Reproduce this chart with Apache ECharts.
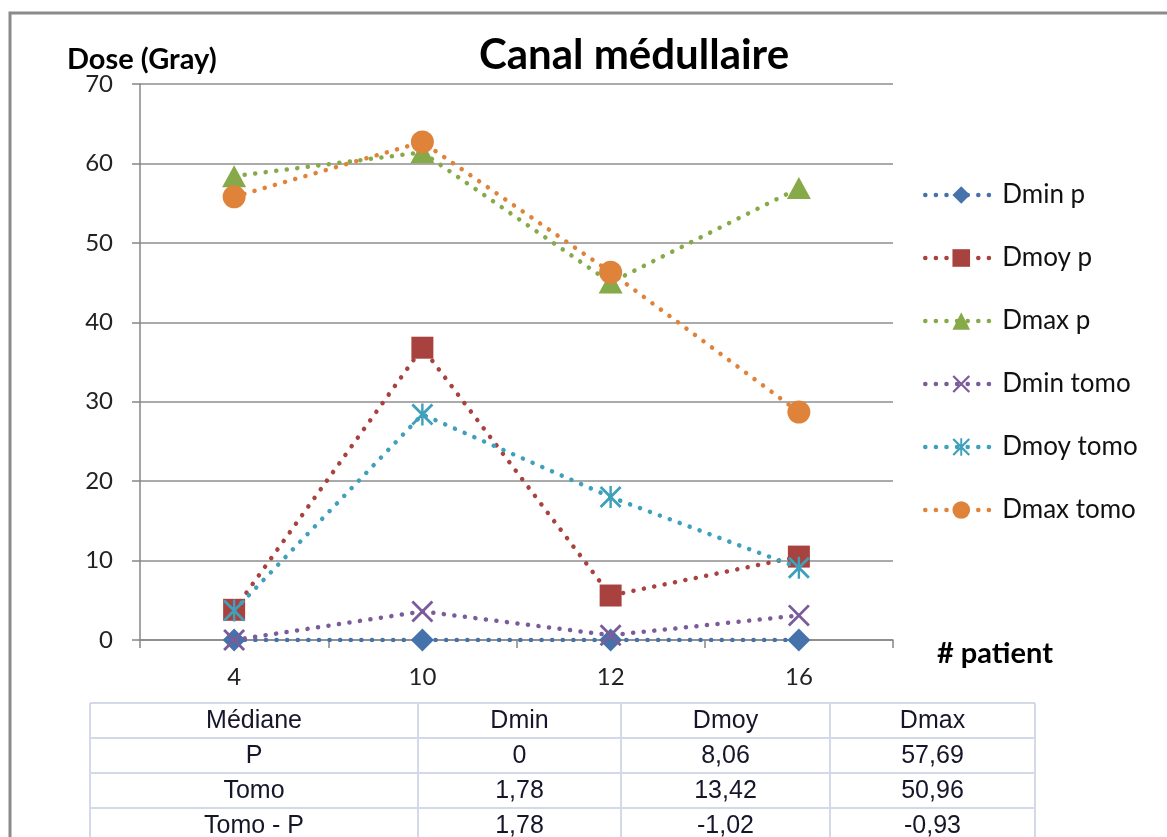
<!DOCTYPE html>
<html><head><meta charset="utf-8">
<script src="https://cdn.jsdelivr.net/npm/echarts@6/dist/echarts.min.js"></script>
<style>html,body{margin:0;padding:0;background:#fff}#c{width:1167px;height:837px}</style>
</head><body><div id="c"></div>
<script>
// ---- data ----
const categories = ['4', '10', '12', '16'];
const seriesNames = ['Dmin p', 'Dmoy p', 'Dmax p', 'Dmin tomo', 'Dmoy tomo', 'Dmax tomo'];
const dminP = [0, 0, 0, 0];
const dmoyP = [3.8, 36.8, 5.6, 10.5];
const dmaxP = [58.4, 61.4, 45.0, 56.9];
const dminTomo = [0, 3.6, 0.6, 3.1];
const dmoyTomo = [3.7, 28.4, 18.0, 9.1];
const dmaxTomo = [55.8, 62.7, 46.3, 28.7];
const yMin = 0, yMax = 70, yStep = 10;
const titleText = 'Canal médullaire';
const yName = 'Dose (Gray)';
const xName = '# patient';
const tableHeader = ['Médiane', 'Dmin', 'Dmoy', 'Dmax'];
const tableRows = [
  ['P', '0', '8,06', '57,69'],
  ['Tomo', '1,78', '13,42', '50,96'],
  ['Tomo - P', '1,78', '-1,02', '-0,93']
];

// ---- styling ----
const FONT = 'Lato';
const colors = ['#4672ac', '#a8423f', '#86a94a', '#7a5c9b', '#3fa0bb', '#e0833a'];
const xPath = 'path://M0,1.8L1.8,0L20,18.2L18.2,20ZM18.2,0L20,1.8L1.8,20L0,18.2Z';
const starPath = 'path://M0,1.8L1.8,0L20,18.2L18.2,20ZM18.2,0L20,1.8L1.8,20L0,18.2ZM8.9,0L11.1,0L11.1,20L8.9,20Z';
const symbols = ['diamond', 'rect', 'triangle', xPath, starPath, 'circle'];
const symbolSizes = [[23, 23], [22, 22], [24, 22], [22, 22], [22, 22], [23, 23]];
const dataSets = [dminP, dmoyP, dmaxP, dminTomo, dmoyTomo, dmaxTomo];
const dotted = [0.1, 10.5];

const chart = echarts.init(document.getElementById('c'), null, {renderer: 'canvas'});

// table graphics
const colEdges = [90, 418, 621, 830, 1035];
const rowEdges = [703, 738, 773, 808, 843];
const tableGraphics = [];
const allRows = [tableHeader].concat(tableRows);
const lineStyleT = {stroke: '#d3d9e6', lineWidth: 2};
colEdges.forEach(x => tableGraphics.push({type: 'line', shape: {x1: x, y1: rowEdges[0], x2: x, y2: rowEdges[rowEdges.length - 1]}, style: lineStyleT, silent: true}));
rowEdges.forEach(y => tableGraphics.push({type: 'line', shape: {x1: colEdges[0], y1: y, x2: colEdges[colEdges.length - 1], y2: y}, style: lineStyleT, silent: true}));
allRows.forEach((row, r) => {
  row.forEach((txt, c) => {
    tableGraphics.push({
      type: 'text', silent: true,
      x: (colEdges[c] + colEdges[c + 1]) / 2,
      y: (rowEdges[r] + rowEdges[r + 1]) / 2 + 1,
      style: {text: txt, font: '25px "Liberation Sans", Arial, sans-serif', fill: '#16162a', align: 'center', verticalAlign: 'middle'}
    });
  });
});

const option = {
  animation: false,
  backgroundColor: '#fff',
  title: {
    text: titleText, left: 629, top: 29, textAlign: 'center',
    textStyle: {fontFamily: FONT, fontWeight: 'bold', fontSize: 42, color: '#000'}
  },
  grid: {left: 140, right: 274, top: 84, bottom: 197, containLabel: false},
  legend: {
    orient: 'vertical', left: 918, top: 177,
    itemWidth: 72, itemHeight: 22, itemGap: 37,
    data: seriesNames,
    lineStyle: {width: 4.5, type: dotted, cap: 'round'},
    textStyle: {fontFamily: FONT, fontSize: 26, color: '#111', padding: [0, 0, 0, 0]},
    selectedMode: false
  },
  xAxis: {
    type: 'category', data: categories, boundaryGap: true,
    axisLine: {lineStyle: {color: '#868686', width: 1.5}},
    axisTick: {show: true, alignWithLabel: false, length: 8, lineStyle: {color: '#868686', width: 1.5}},
    axisLabel: {fontFamily: FONT, fontSize: 24, color: '#222', margin: 25}
  },
  yAxis: {
    type: 'value', min: yMin, max: yMax, interval: yStep,
    axisLine: {show: true, lineStyle: {color: '#868686', width: 1.5}},
    axisTick: {show: true, length: 8, lineStyle: {color: '#868686', width: 1.5}},
    splitLine: {lineStyle: {color: '#8e8e8e', width: 1.5}},
    axisLabel: {fontFamily: FONT, fontSize: 24, color: '#222', margin: 27}
  },
  series: seriesNames.map((name, i) => ({
    name: name, type: 'line', data: dataSets[i],
    symbol: symbols[i], symbolSize: symbolSizes[i],
    itemStyle: {color: colors[i]},
    lineStyle: {color: colors[i], width: 4.5, type: dotted, cap: 'round'},
    emphasis: {disabled: true},
    z: 2 + i
  })),
  graphic: [
    {type: 'rect', silent: true, shape: {x: 10, y: 13, width: 2000, height: 2000}, style: {fill: 'none', stroke: '#8a8a8a', lineWidth: 3}},
    {type: 'text', silent: true, x: 67, y: 60, style: {text: yName, font: 'bold 29px Lato', fill: '#000', align: 'left', verticalAlign: 'middle'}},
    {type: 'text', silent: true, x: 937, y: 654, style: {text: xName, font: 'bold 29px Lato', fill: '#000', align: 'left', verticalAlign: 'middle'}}
  ].concat(tableGraphics)
};
chart.setOption(option);
</script></body></html>
